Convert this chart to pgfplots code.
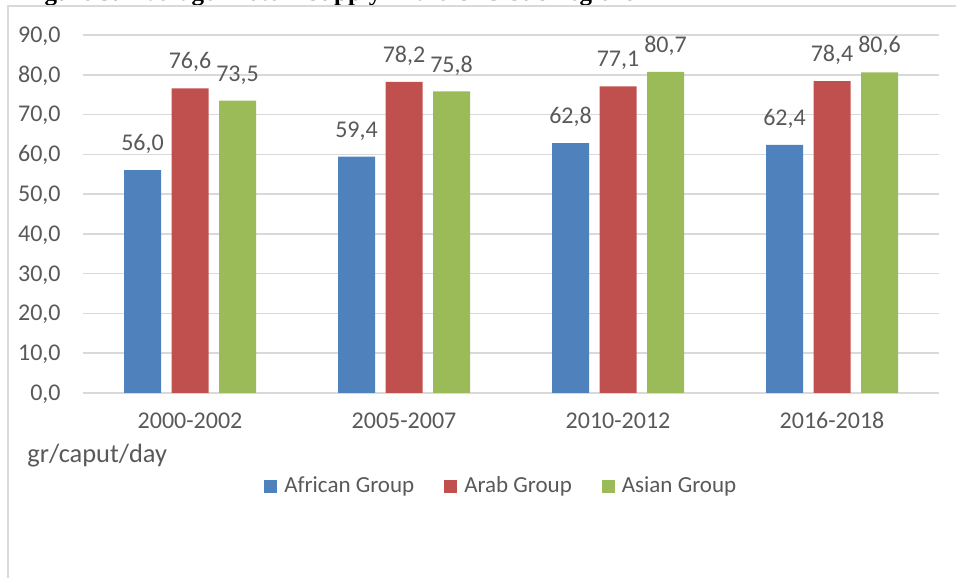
\documentclass[border=0pt]{standalone}
\usepackage{pgfplots}
\pgfplotsset{compat=1.18}
\usepackage{fontspec}
\setmainfont{Carlito}
\newfontfamily\titlefont{Liberation Serif}
\definecolor{cblue}{HTML}{4F81BD}
\definecolor{cred}{HTML}{C0504D}
\definecolor{cgreen}{HTML}{9BBB59}
\definecolor{txt}{HTML}{595959}
\definecolor{gridc}{HTML}{D9D9D9}
\begin{document}
\begin{tikzpicture}
\useasboundingbox (0,0) rectangle (478pt,288.5pt);
\clip (0,0) rectangle (478pt,288.5pt);
\node[anchor=base west, inner sep=0pt, font=\titlefont\bfseries\fontsize{12.5}{14}\selectfont] at (11pt,288pt) {Figure 3: Average Protein Supply in the OIC Sub-regions};
\draw[gridc, line width=0.75pt] (4pt,-10pt) -- (4pt,285.5pt) -- (490pt,285.5pt);
\node[anchor=base west, inner sep=0pt, text=txt, font=\fontsize{13.2}{15}\selectfont] at (13.5pt,57pt) {gr/caput/day};
\begin{axis}[
  at={(41.5pt,92pt)}, anchor=south west,
  scale only axis, width=428pt, height=179pt,
  xmin=-0.5, xmax=3.5, ymin=0, ymax=90,
  ybar=5.25pt, bar width=18.5pt,
  axis line style={draw=none},
  ymajorgrids, grid style={gridc, line width=0.75pt},
  major tick length=0pt,
  ytick={0,10,...,90},
  xtick={0,1,2,3},
  xticklabels={2000-2002,2005-2007,2010-2012,2016-2018},
  /pgf/number format/fixed,
  /pgf/number format/fixed zerofill,
  /pgf/number format/precision=1,
  /pgf/number format/use comma,
  /pgf/number format/assume math mode=true,
  tick label style={font=\fontsize{12}{14}\selectfont, text=txt},
  yticklabel style={anchor=base east, inner sep=0pt, xshift=-11pt, yshift=-3.7pt},
  xticklabel style={anchor=base, inner sep=0pt, yshift=-18pt},
  nodes near coords,
  every node near coord/.append style={font=\fontsize{12}{14}\selectfont, text=txt, inner sep=0pt, yshift=8pt},
  legend columns=3,
  legend image code/.code={\fill[#1] (0pt,-3.25pt) rectangle (6.5pt,3.25pt);},
  legend style={at={(0.2114,-0.2598)}, anchor=west, draw=none, fill=none, inner sep=0pt,
    font=\fontsize{11.5}{13}\selectfont, text=txt, nodes={inner sep=0pt},
    /tikz/every odd column/.append style={column sep=3.5pt},
    /tikz/every even column/.append style={column sep=15pt}},
]
\addplot[fill=cblue, draw=none] coordinates {(0,56.0) (1,59.4) (2,62.8) (3,62.4)};
\addplot[fill=cred, draw=none] coordinates {(0,76.6) (1,78.2) (2,77.1) (3,78.4)};
\addplot[fill=cgreen, draw=none] coordinates {(0,73.5) (1,75.8) (2,80.7) (3,80.6)};
\legend{African Group, Arab Group, Asian Group}
\end{axis}
\end{tikzpicture}
\end{document}
